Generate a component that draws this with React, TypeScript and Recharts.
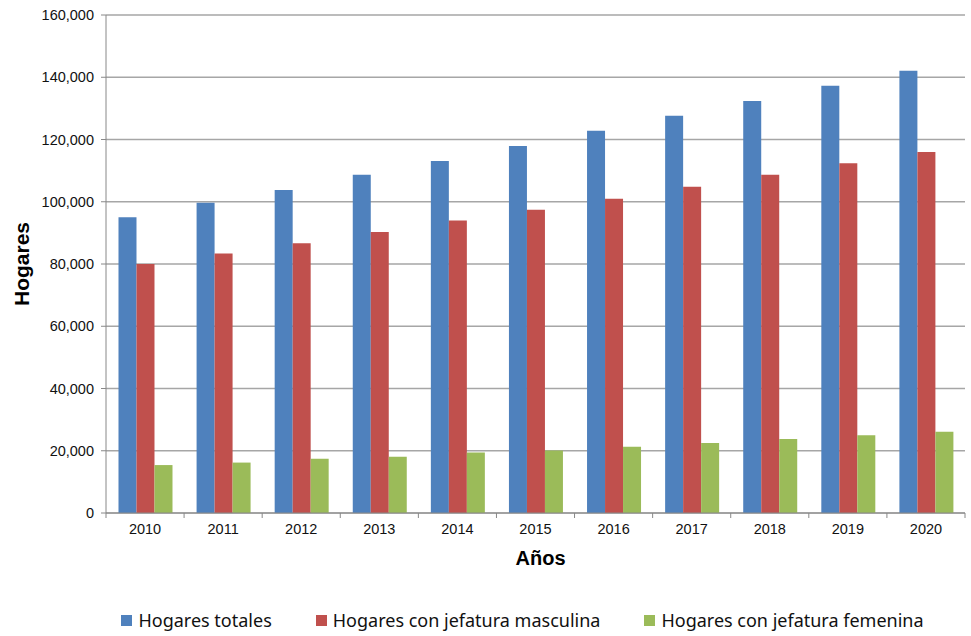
import { BarChart, Bar, XAxis, YAxis, CartesianGrid, Legend } from 'recharts'

const years = ['2010', '2011', '2012', '2013', '2014', '2015', '2016', '2017', '2018', '2019', '2020']
const totales = [95000, 99700, 103800, 108700, 113100, 117900, 122800, 127600, 132400, 137300, 142100]
const masculina = [80000, 83400, 86700, 90300, 94000, 97400, 101000, 104800, 108700, 112400, 116000]
const femenina = [15400, 16200, 17400, 18100, 19400, 20100, 21300, 22500, 23800, 25000, 26100]
const yTicks = [0, 20000, 40000, 60000, 80000, 100000, 120000, 140000, 160000]
const seriesNames = ['Hogares totales', 'Hogares con jefatura masculina', 'Hogares con jefatura femenina']

const data = years.map((year, i) => ({
    year,
    totales: totales[i],
    masculina: masculina[i],
    femenina: femenina[i],
}))

const W = 971
const H = 636
const M = { top: 15, right: 6, left: 0, bottom: 4 }
const Y_AXIS_W = 106
const STEP = (W - M.left - M.right - Y_AXIS_W) / years.length
const ARIAL = '"Liberation Sans", Arial, sans-serif'

const XTick = (props: any) => {
    const { x, y, payload, index } = props
    const left = x - STEP / 2
    return (
        <g>
            <line x1={left} y1={y - 8} x2={left} y2={y - 3} stroke="#888" />
            {index === years.length - 1 && (
                <line x1={left + STEP} y1={y - 8} x2={left + STEP} y2={y - 3} stroke="#888" />
            )}
            <text x={x} y={y + 13} textAnchor="middle" fontSize={14.5} fontFamily={ARIAL} fill="#111">
                {payload.value}
            </text>
        </g>
    )
}

const LegendBox = (props: any) => {
    const items = [...props.payload].sort(
        (a: any, b: any) => seriesNames.indexOf(a.value) - seriesNames.indexOf(b.value)
    )
    return (
        <div style={{ height: 61, display: 'flex', alignItems: 'flex-end', justifyContent: 'center', gap: 44, paddingLeft: 80 }}>
            {items.map((p: any) => (
                <div key={p.value} style={{ display: 'flex', alignItems: 'center', height: 24 }}>
                    <span style={{ width: 11, height: 11, background: p.color, marginRight: 6, display: 'inline-block' }} />
                    <span style={{ fontFamily: '"Noto Sans", sans-serif', fontSize: 18, color: '#111' }}>{p.value}</span>
                </div>
            ))}
        </div>
    )
}

export default function App() {
    return (
        <div style={{ position: 'absolute', left: 0, top: 0, background: '#fff', fontFamily: ARIAL }}>
            <BarChart width={W} height={H} data={data} margin={M} barCategoryGap="16%" barGap={0}>
                <CartesianGrid vertical={false} stroke="#a6a6a6" strokeWidth={1.5} />
                <XAxis
                    dataKey="year"
                    height={58}
                    stroke="#888"
                    tickLine={false}
                    tick={<XTick />}
                    label={{ value: 'Años', position: 'insideBottom', offset: 6, dx: 5, fontSize: 20, fontWeight: 'bold', fill: '#000', fontFamily: ARIAL }}
                />
                <YAxis
                    width={Y_AXIS_W}
                    domain={[0, 160000]}
                    ticks={yTicks}
                    interval={0}
                    stroke="#888"
                    tickSize={5}
                    tickFormatter={(v: number) => v.toLocaleString('en-US')}
                    tick={{ fontSize: 14.5, fill: '#111', fontFamily: ARIAL, dx: -5 }}
                    label={{ value: 'Hogares', angle: -90, position: 'insideLeft', offset: 22, textAnchor: 'middle', fontSize: 21, fontWeight: 'bold', fill: '#000', fontFamily: ARIAL }}
                />
                <Legend content={<LegendBox />} verticalAlign="bottom" height={61} />
                <Bar dataKey="totales" name={seriesNames[0]} fill="#4F81BD" isAnimationActive={false} />
                <Bar dataKey="masculina" name={seriesNames[1]} fill="#C0504D" isAnimationActive={false} />
                <Bar dataKey="femenina" name={seriesNames[2]} fill="#9BBB59" isAnimationActive={false} />
            </BarChart>
        </div>
    )
}
